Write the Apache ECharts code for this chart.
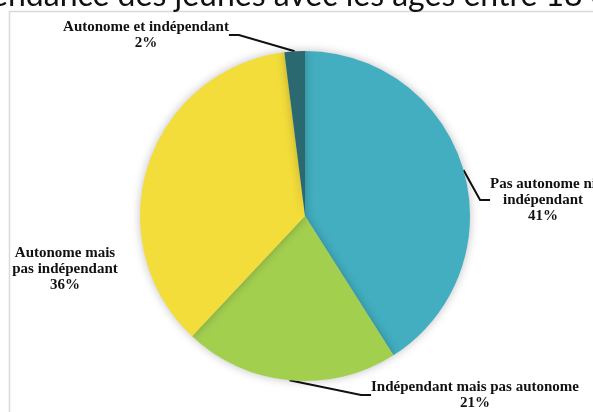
<!DOCTYPE html>
<html>
<head>
<meta charset="utf-8">
<script src="https://cdn.jsdelivr.net/npm/echarts@6/dist/echarts.min.js"></script>
<style>
  html, body { margin: 0; padding: 0; background: #fff; }
  #chart { width: 593px; height: 412px; }
</style>
</head>
<body>
<div id="chart"></div>
<script>
// Répartition des jeunes selon autonomie / indépendance
const categories = [
  'Pas autonome ni\nindépendant',
  'Indépendant mais pas autonome',
  'Autonome mais\npas indépendant',
  'Autonome et indépendant'
];
const shares = [41, 21, 36, 2];
const sliceColors = ['#42AEBF', '#A3CF4F', '#F3DD3B', '#2B6970'];
const titleText = "l'indépendance des jeunes avec les âges entre 18 et 25 ans";

// where each label sits (x, y)
const labelSpots = [
  [543, 200],
  [475, 395],
  [65, 269],
  [146, 35]
];

const chart = echarts.init(document.getElementById('chart'), null, { renderer: 'canvas' });

// shift the heading so that "ndance" begins near the left edge
const titleFont = '32px Lato';
const ctx = document.createElement('canvas').getContext('2d');
ctx.font = titleFont;
const lead = ctx.measureText("l'indépe").width;

chart.setOption({
  backgroundColor: '#ffffff',
  animation: false,
  graphic: [
    {
      type: 'rect',
      shape: { x: 9.5, y: 11.5, width: 620, height: 430 },
      style: { fill: '#ffffff', stroke: '#d9d9d9', lineWidth: 1.5 },
      z: 0
    },
    {
      type: 'text',
      x: -lead + 8,
      y: -4,
      style: {
        text: titleText,
        font: titleFont,
        fill: '#111',
        verticalAlign: 'middle',
        align: 'left'
      },
      z: 1
    }
  ],
  series: [{
    type: 'pie',
    center: [305, 216],
    radius: [0, 165],
    startAngle: 90,
    clockwise: true,
    label: {
      show: true,
      formatter: '{b}\n{c}%',
      fontFamily: 'Liberation Serif',
      fontWeight: 'bold',
      fontSize: 15,
      lineHeight: 16,
      color: '#111',
      align: 'center',
      overflow: 'none'
    },
    labelLine: {
      show: true,
      length: 15,
      length2: 10,
      lineStyle: { color: '#111', width: 2 }
    },
    labelLayout: function (p) {
      const s = labelSpots[p.dataIndex];
      return { x: s[0], y: s[1], align: 'center', verticalAlign: 'middle' };
    },
    itemStyle: {
      borderWidth: 0,
      shadowBlur: 10,
      shadowColor: 'rgba(0,0,0,0.25)'
    },
    emphasis: { disabled: true },
    data: categories.map((name, i) => ({
      name: name,
      value: shares[i],
      itemStyle: { color: sliceColors[i] },
      labelLine: { show: i !== 2 }
    }))
  }]
});
</script>
</body>
</html>
